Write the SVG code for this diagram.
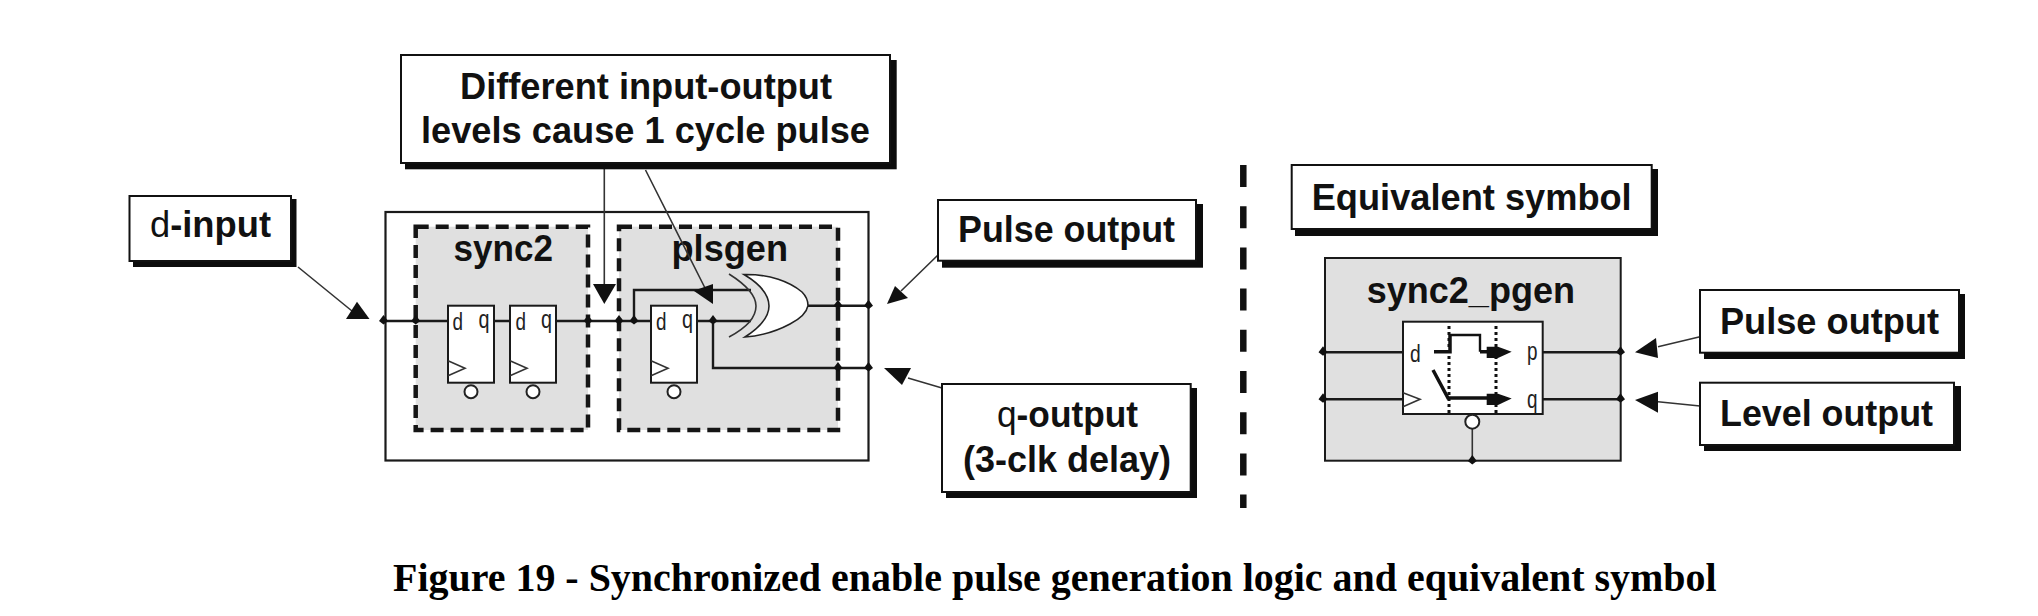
<svg xmlns="http://www.w3.org/2000/svg" width="2038" height="616" viewBox="0 0 2038 616">
<style>
.lb{font-family:"Liberation Sans",Arial,sans-serif;font-weight:700;font-size:36px;fill:#111}
.reg{font-weight:400}
.pin{font-family:"Liberation Sans",Arial,sans-serif;font-weight:400;font-size:23px;fill:#222}
.pq{font-size:25px}
.cap{font-family:"Liberation Serif","Times New Roman",serif;font-weight:700;font-size:39px;fill:#000}
.box{fill:#fff;stroke:#111;stroke-width:2}
.sh{fill:#0c0c0c}
.w{fill:none;stroke:#1a1a1a;stroke-width:2.400}
.t{fill:none;stroke:#333;stroke-width:1.600}
.ah{fill:#111;stroke:none}
.dash{fill:#e0e0e0;stroke:#151515;stroke-width:4.500;stroke-dasharray:13 7}
.ff{fill:#fff;stroke:#1a1a1a;stroke-width:2}
.bub{fill:#fff;stroke:#222;stroke-width:2}
.grey{fill:#e0e0e0;stroke:#1a1a1a;stroke-width:2}
</style>
<defs>
<path id="dot" class="ah" d="M0-6 4.500 0 0 3.500-4.500 0Z"/>
<g id="flop">
<rect class="ff" x="0" y="0" width="46" height="77"/>
<path class="t" d="M0 55 17 62.500 0 70"/>
<circle class="bub" cx="23" cy="86" r="6.500"/>
</g>
</defs>
<rect width="2038" height="616" fill="#fff"/>

<g id="divider"><path d="M1243.300 165V508" fill="none" stroke="#111" stroke-width="6.500" stroke-dasharray="22 19.200"/></g>

<g id="outer"><rect x="385.500" y="212" width="483" height="248.500" fill="#fff" stroke="#1a1a1a" stroke-width="2.200"/></g>

<g id="sync2">
<rect class="dash" x="415.700" y="226.700" width="172.300" height="203.300"/>
<text class="lb" x="453.500" y="261" textLength="99.500" lengthAdjust="spacingAndGlyphs">sync2</text>
</g>
<g id="plsgen">
<rect class="dash" x="619" y="226.700" width="219" height="203.300"/>
<text class="lb" x="671.500" y="261" textLength="116.500" lengthAdjust="spacingAndGlyphs">plsgen</text>
</g>

<g id="connectors">
<path class="w" d="M383.500 321H448M493.600 321H510M556 321H651M697 321H751M634 321V290H751M713 321V368H868.500M808 305.700H868.500"/>
<path class="t" d="M604.300 169V286M645.500 170 705 288M298 267 352 311M938 255 901 291M942 388 908 378M1700 336.700 1658 346.700M1700 406 1658 401.700"/>
<polygon class="ah" points="593,284 616,284 604.300,304"/>
<polygon class="ah" points="713,284 693.600,290.700 713,304"/>
<polygon class="ah" points="357,301.700 346,319 369.500,319"/>
<polygon class="ah" points="895,286 908,298 887,304"/>
<polygon class="ah" points="884,368 911,368 902,385"/>
<polygon class="ah" points="1635,352.300 1656,338 1658,358"/>
<polygon class="ah" points="1635,400 1658,391.700 1658,412.700"/>
<use href="#dot" x="383.500" y="321"/><use href="#dot" x="415.700" y="321"/><use href="#dot" x="588" y="321"/><use href="#dot" x="619" y="321"/><use href="#dot" x="634" y="321"/><use href="#dot" x="713" y="321"/>
<use href="#dot" x="838" y="305.700"/><use href="#dot" x="868.500" y="305.700"/><use href="#dot" x="838" y="368"/><use href="#dot" x="868.500" y="368"/>
</g>

<g id="ff1"><use href="#flop" x="448" y="305.700"/><text class="pin" x="452.500" y="329.500" textLength="10.500" lengthAdjust="spacingAndGlyphs">d</text><text class="pin pq" x="478.500" y="328" textLength="11" lengthAdjust="spacingAndGlyphs">q</text></g>
<g id="ff2"><use href="#flop" x="510" y="305.700"/><text class="pin" x="515.500" y="329.500" textLength="10.500" lengthAdjust="spacingAndGlyphs">d</text><text class="pin pq" x="541" y="328" textLength="11" lengthAdjust="spacingAndGlyphs">q</text></g>
<g id="ff3"><use href="#flop" x="651" y="305.700"/><text class="pin" x="656" y="329.500" textLength="10.500" lengthAdjust="spacingAndGlyphs">d</text><text class="pin pq" x="682" y="328" textLength="11" lengthAdjust="spacingAndGlyphs">q</text></g>

<g id="xor">
<path d="M744 274.500C770 274 790 282 802 292Q808 298 808 305.700Q806 316 790 324C775 332 760 336 745 337C762 326 769 316 769 306C769 295 760 284 744 274.500Z" fill="#fff" stroke="#222" stroke-width="1.600"/>
<path class="t" d="M729 274C748 286 756 296 756 306C756 316 748 327 729 337"/>
</g>

<g id="callout">
<rect class="sh" x="405" y="60" width="491.700" height="109.300"/>
<rect class="box" x="401" y="55" width="489" height="108"/>
<text class="lb" x="460" y="98.500" textLength="372" lengthAdjust="spacingAndGlyphs">Different input-output</text>
<text class="lb" x="421" y="143" textLength="449" lengthAdjust="spacingAndGlyphs">levels cause 1 cycle pulse</text>
</g>

<g id="d-input">
<rect class="sh" x="133" y="199" width="163.500" height="68"/>
<rect class="box" x="129.500" y="196" width="161.500" height="65"/>
<text class="lb" x="150" y="237" textLength="121" lengthAdjust="spacingAndGlyphs"><tspan class="reg">d</tspan>-input</text>
</g>

<g id="pulse-output">
<rect class="sh" x="942" y="204" width="261" height="63.700"/>
<rect class="box" x="938" y="200" width="258" height="60.700"/>
<text class="lb" x="958" y="241.700" textLength="217" lengthAdjust="spacingAndGlyphs">Pulse output</text>
</g>

<g id="q-output">
<rect class="sh" x="946" y="388" width="251" height="110"/>
<rect class="box" x="942" y="384" width="248.700" height="108"/>
<text class="lb" x="997" y="426.700" textLength="141" lengthAdjust="spacingAndGlyphs"><tspan class="reg">q</tspan>-output</text>
<text class="lb" x="963" y="471.700" textLength="208" lengthAdjust="spacingAndGlyphs">(3-clk delay)</text>
</g>

<g id="equivalent-symbol">
<rect class="sh" x="1295" y="169" width="363" height="67"/>
<rect class="box" x="1291.700" y="165" width="360" height="64"/>
<text class="lb" x="1311.700" y="210" textLength="320" lengthAdjust="spacingAndGlyphs">Equivalent symbol</text>
</g>

<g id="sync2_pgen">
<rect class="grey" x="1325" y="258" width="295.700" height="202.700"/>
<text class="lb" x="1366.700" y="302.700" textLength="208.300" lengthAdjust="spacingAndGlyphs">sync2_pgen</text>
<path class="w" d="M1323 352.300H1403M1542.700 352.300H1620M1323 399.300H1403M1542.700 399.300H1620"/>
<path class="t" d="M1472.300 428V461"/>
<rect class="ff" x="1403" y="321.700" width="139.700" height="92.300"/>
<path class="t" d="M1403 392.700 1420 399.300 1403 406.700"/>
<circle class="bub" cx="1472.300" cy="421.700" r="7"/>
<path d="M1449 326V413M1496 326V413" fill="none" stroke="#111" stroke-width="3" stroke-dasharray="3 3"/>
<path d="M1450 335H1480V351.700" fill="none" stroke="#111" stroke-width="2.400"/>
<path d="M1434 351.700H1450V335M1480 351.700H1505" fill="none" stroke="#111" stroke-width="3.500"/>
<path d="M1433 370 1448 398H1505" fill="none" stroke="#111" stroke-width="3.500"/>
<polygon class="ah" points="1486.700,346.700 1498,346.700 1511.700,351.700 1498,358 1486.700,358"/>
<polygon class="ah" points="1486.700,393.700 1498,393.700 1511.700,398.500 1498,405 1486.700,405"/>
<text class="pin" x="1410" y="361.700" textLength="10.700" lengthAdjust="spacingAndGlyphs">d</text>
<text class="pin pq" x="1527" y="360" textLength="10.500" lengthAdjust="spacingAndGlyphs">p</text>
<text class="pin pq" x="1527" y="408" textLength="10.500" lengthAdjust="spacingAndGlyphs">q</text>
<use href="#dot" x="1323" y="352.300"/><use href="#dot" x="1620.500" y="352.300"/><use href="#dot" x="1323" y="399.300"/><use href="#dot" x="1620.500" y="399.300"/><use href="#dot" x="1472.300" y="461"/>
</g>

<g id="pulse-output-2">
<rect class="sh" x="1704" y="294" width="261" height="65"/>
<rect class="box" x="1700" y="290" width="259" height="62.700"/>
<text class="lb" x="1720" y="333.500" textLength="219" lengthAdjust="spacingAndGlyphs">Pulse output</text>
</g>
<g id="level-output">
<rect class="sh" x="1704" y="386" width="257" height="65"/>
<rect class="box" x="1700" y="382.700" width="254" height="62.300"/>
<text class="lb" x="1720" y="425.500" textLength="213" lengthAdjust="spacingAndGlyphs">Level output</text>
</g>

<text id="caption" class="cap" x="393" y="591" textLength="1323.600" lengthAdjust="spacingAndGlyphs">Figure 19 - Synchronized enable pulse generation logic and equivalent symbol</text>
</svg>
